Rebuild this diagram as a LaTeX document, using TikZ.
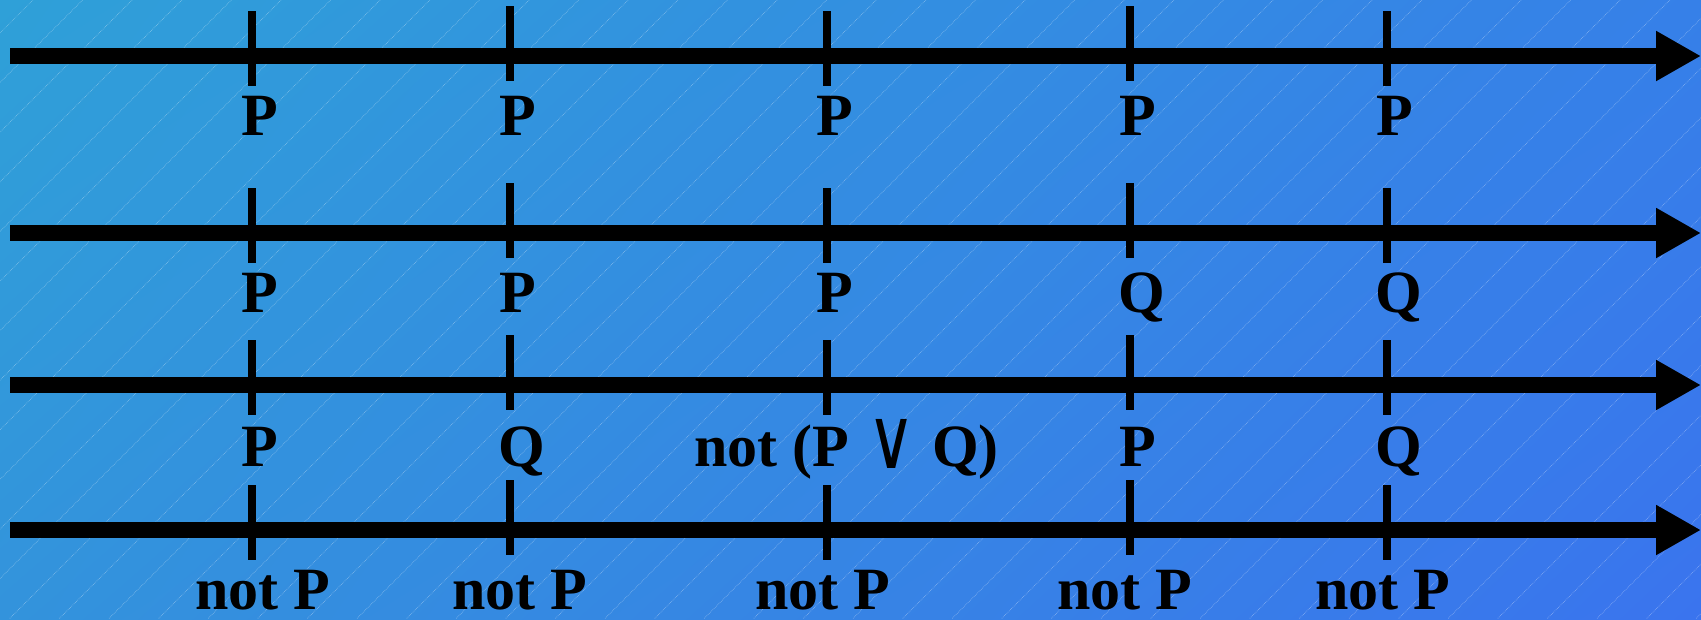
\documentclass[tikz,border=0pt]{standalone}
\usepackage{fontspec}
\setmainfont{Liberation Serif}
\newfontfamily\symfont{DejaVu Serif}
\usetikzlibrary{arrows.meta,positioning,shadings}

\definecolor{skyTL}{RGB}{47,160,216}
\definecolor{skyTR}{RGB}{54,128,232}
\definecolor{skyBL}{RGB}{51,147,220}
\definecolor{skyBR}{RGB}{58,116,238}

\begin{document}
\begin{tikzpicture}[x=1pt, y=-1pt,
    axis/.style={line width=16pt, -{Triangle[length=45pt, width=47pt]}},
    notch/.style={fill=black, inner sep=0pt, minimum width=8pt, minimum height=75pt},
    lab/.style={inner sep=0pt, anchor=base west, font=\fontsize{60}{72}\selectfont\bfseries},
    hatch/.style={white, opacity=0.35, line width=0.7pt, densely dotted}]
    \useasboundingbox (0,0) rectangle (1701,619);
    % background
    \shade [upper left=skyTL, upper right=skyTR, lower left=skyBL, lower right=skyBR] (0,0) rectangle (1701,619);
    \begin{scope}
        \clip (0,0) rectangle (1701,619);
        \foreach \k in {0,...,47}
            \draw [hatch] (33+\k*49.6,0) -- ++(-619,619);
    \end{scope}

    % time lines
    \coordinate (s1) at (10,56);   \coordinate (e1) at (1701,56);
    \coordinate (s2) at (10,233);  \coordinate (e2) at (1701,233);
    \coordinate (s3) at (10,385);  \coordinate (e3) at (1701,385);
    \coordinate (s4) at (10,530);  \coordinate (e4) at (1701,530);
    \draw [axis] (s1) -- (e1);
    \draw [axis] (s2) -- (e2);
    \draw [axis] (s3) -- (e3);
    \draw [axis] (s4) -- (e4);

    % ticks
    \node [notch] (t11) at (252,48.5) {};   \node [notch] (t12) at (510,43.5) {};
    \node [notch] (t13) at (827,48.5) {};   \node [notch] (t14) at (1130,43.5) {};
    \node [notch] (t15) at (1387,48.5) {};
    \node [notch] (t21) at (252,225.5) {};  \node [notch] (t22) at (510,220.5) {};
    \node [notch] (t23) at (827,225.5) {};  \node [notch] (t24) at (1130,220.5) {};
    \node [notch] (t25) at (1387,225.5) {};
    \node [notch] (t31) at (252,377.5) {};  \node [notch] (t32) at (510,372.5) {};
    \node [notch] (t33) at (827,377.5) {};  \node [notch] (t34) at (1130,372.5) {};
    \node [notch] (t35) at (1387,377.5) {};
    \node [notch] (t41) at (252,522.5) {};  \node [notch] (t42) at (510,517.5) {};
    \node [notch] (t43) at (827,522.5) {};  \node [notch] (t44) at (1130,517.5) {};
    \node [notch] (t45) at (1387,522.5) {};

    % labels
    \node [lab] (l11) at (241,135) {P};
    \node [lab] (l12) at (499,135) {P};
    \node [lab] (l13) at (816,135) {P};
    \node [lab] (l14) at (1119,135) {P};
    \node [lab] (l15) at (1376,135) {P};
    \node [lab] (l21) at (241,312) {P};
    \node [lab] (l22) at (499,312) {P};
    \node [lab] (l23) at (816,312) {P};
    \node [lab] (l24) at (1118,312) {Q};
    \node [lab] (l25) at (1375,312) {Q};
    \node [lab] (l31) at (241,466) {P};
    \node [lab] (l32) at (498,466) {Q};
    \node [lab] (l33) at (694,466) {not (P\hspace{0.3em}\raisebox{-2pt}{\scalebox{1.1}[1.4]{\symfont\mdseries ∨}}\hspace{0.28em}Q)};
    \node [lab] (l34) at (1119,466) {P};
    \node [lab] (l35) at (1375,466) {Q};
    \node [lab] (l41) at (195,609) {not P};
    \node [lab] (l42) at (452,609) {not P};
    \node [lab] (l43) at (755,609) {not P};
    \node [lab] (l44) at (1057,609) {not P};
    \node [lab] (l45) at (1315,609) {not P};
\end{tikzpicture}
\end{document}
